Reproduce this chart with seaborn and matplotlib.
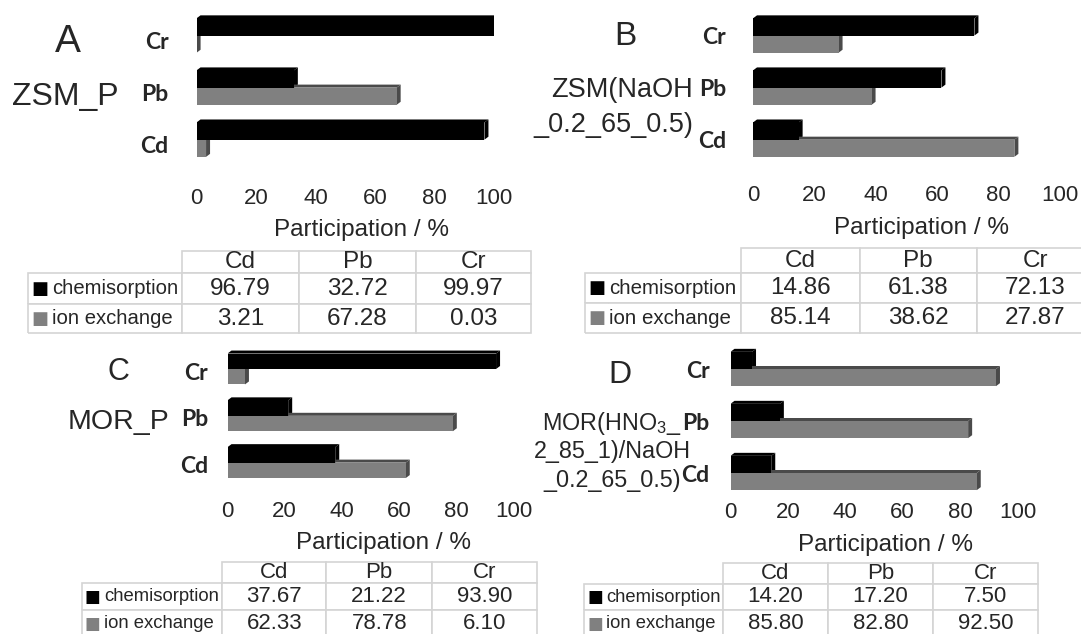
import numpy as np
import pandas as pd
import matplotlib
matplotlib.use('Agg')
import matplotlib.pyplot as plt
import matplotlib.transforms as mtransforms
from matplotlib.patches import Polygon
import seaborn as sns

# data
metals = ['Cd', 'Pb', 'Cr']
bar_order = ['Cr', 'Pb', 'Cd']
mechanisms = ['chemisorption', 'ion exchange']

zsm_p_chem = [96.79, 32.72, 99.97]
zsm_p_ion = [3.21, 67.28, 0.03]
zsm_naoh_chem = [14.86, 61.38, 72.13]
zsm_naoh_ion = [85.14, 38.62, 27.87]
mor_p_chem = [37.67, 21.22, 93.90]
mor_p_ion = [62.33, 78.78, 6.10]
mor_mod_chem = [14.20, 17.20, 7.50]
mor_mod_ion = [85.80, 82.80, 92.50]

panel_letters = ['A', 'B', 'C', 'D']
sample_names = ['ZSM_P',
                'ZSM(NaOH\n_0.2_65_0.5)',
                'MOR_P',
                'MOR(HNO$_3$_\n2_85_1)/NaOH\n_0.2_65_0.5)']
x_label = 'Participation / %'

W, H = 1081, 634
BLACK = '#000000'
GREY = '#808080'
LINE = '#d4d4d4'

# layout in pixels (x from left, y from top)
layouts = [
    dict(ax=(196.5, 9.5, 494, 165.7), tickpad=15.8, ypad=20, yshift=5,
         xlab=(361, 230), letter=(68, 51.7, 28), name=(65, 105, 23, 'center', 0),
         tab_x=[28, 52, 182.5, 299, 416, 531.3], tab_y=[250.7, 273.3, 304, 333.3],
         num_fs=17.5, lab_fs=14.6, sq_fs=13),
    dict(ax=(753, 9.5, 1060, 165.7), tickpad=13.6, ypad=19.5, yshift=0,
         xlab=(922, 228), letter=(625, 45, 24), name=(693, 97, 19.5, 'right', 35),
         tab_x=[585, 609, 741.4, 859.6, 976.6, 1094], tab_y=[248.3, 272.7, 303.3, 333.3],
         num_fs=17.5, lab_fs=14.8, sq_fs=13),
    dict(ax=(227.5, 345.6, 513.5, 486), tickpad=11, ypad=14, yshift=2,
         xlab=(383, 543), letter=(118, 380, 22), name=(118, 429, 20.5, 'center', 0),
         tab_x=[81.6, 104, 222, 326.4, 432, 537], tab_y=[561.7, 583.3, 610, 637],
         num_fs=16, lab_fs=13.3, sq_fs=12),
    dict(ax=(730.5, 343, 1017.5, 499), tickpad=2.5, ypad=15, yshift=0,
         xlab=(885, 545), letter=(620, 383, 23), name=(612, 430, 16.8, 'center', 28.3),
         tab_x=[584, 606, 723, 828, 933, 1038], tab_y=[562.7, 584, 610, 637],
         num_fs=16, lab_fs=13.2, sq_fs=12),
]
series = [(zsm_p_chem, zsm_p_ion), (zsm_naoh_chem, zsm_naoh_ion),
          (mor_p_chem, mor_p_ion), (mor_mod_chem, mor_mod_ion)]

sns.set_style('white')
plt.rcParams['font.family'] = ['Liberation Sans', 'DejaVu Sans']
plt.rcParams['mathtext.fontset'] = 'custom'
plt.rcParams['mathtext.rm'] = 'Liberation Sans'
plt.rcParams['mathtext.default'] = 'regular'


def rect(x0, y0, x1, y1):
    return [x0 / W, 1 - y1 / H, (x1 - x0) / W, (y1 - y0) / H]


def add_3d_faces(ax, ppu, spacing):
    # fake Excel 3D look: top face and side face on every bar
    dx = 4.0 / ppu
    dy = 3.0 / spacing
    for p in list(ax.patches):
        x0, top = p.get_x(), p.get_y()
        xe, bottom = x0 + p.get_width(), top + p.get_height()
        fc = p.get_facecolor()
        face = '#4a4a4a' if fc[0] > 0.2 else '#000000'
        ax.add_patch(Polygon([(x0, top), (x0 + dx, top - dy), (xe + dx, top - dy), (xe, top)],
                             closed=True, facecolor=face, edgecolor='none', zorder=0.5))
        ax.add_patch(Polygon([(xe, top), (xe + dx, top - dy), (xe + dx, bottom - dy), (xe, bottom)],
                             closed=True, facecolor=face, edgecolor='none', zorder=0.5))


fig = plt.figure(figsize=(W / 100, H / 100), dpi=100)

for i, lay in enumerate(layouts):
    chem, ion = series[i]
    df = pd.DataFrame({
        'metal': metals * 2,
        'mechanism': [mechanisms[0]] * 3 + [mechanisms[1]] * 3,
        'value': list(chem) + list(ion),
    })

    x0, y0, x1, y1 = lay['ax']
    ax = fig.add_axes(rect(x0, y0, x1, y1))
    sns.barplot(data=df, y='metal', x='value', hue='mechanism', order=bar_order,
                hue_order=mechanisms, palette=[BLACK, GREY], orient='h', width=0.66,
                saturation=1, legend=False, linewidth=0, edgecolor='none', ax=ax)
    ax.set_xlim(0, 100)
    ax.set_ylim(2.5, -0.5)
    add_3d_faces(ax, (x1 - x0) / 100.0, (y1 - y0) / 3.0)

    sns.despine(ax=ax, left=True, bottom=True)
    ax.set_xticks([0, 20, 40, 60, 80, 100])
    ax.tick_params(axis='x', length=0, pad=lay['tickpad'], labelsize=16)
    ax.tick_params(axis='y', length=0, pad=lay['ypad'])
    ax.set_ylabel('')
    for lbl in ax.get_yticklabels():
        lbl.set_fontfamily('Lato')
        lbl.set_fontweight('bold')
        lbl.set_fontsize(16.5)
        lbl.set_transform(lbl.get_transform() +
                          mtransforms.ScaledTranslation(0, -lay['yshift'] / 100, fig.dpi_scale_trans))

    ax.set_xlabel(x_label, fontsize=17.5)
    xc, yc = lay['xlab']
    ax.xaxis.set_label_coords((xc - x0) / (x1 - x0), -(yc - y1) / (y1 - y0))
    ax.xaxis.label.set_verticalalignment('center')

    # panel letter and sample name
    lx, ly, lfs = lay['letter']
    fig.text(lx / W, 1 - ly / H, panel_letters[i], fontsize=lfs, ha='center', va='baseline')
    nx, ny, nfs, nha, nstep = lay['name']
    for k, line in enumerate(sample_names[i].split('\n')):
        fig.text(nx / W, 1 - (ny + k * nstep) / H, line, fontsize=nfs, ha=nha, va='baseline')

    # data table under the chart
    tx, ty = lay['tab_x'], lay['tab_y']
    tax = fig.add_axes(rect(tx[0], ty[0], tx[-1], ty[-1]))
    tax.axis('off')
    cells = [['', ''] + metals,
             ['\u25a0', mechanisms[0]] + [f'{v:.2f}' for v in chem],
             ['\u25a0', mechanisms[1]] + [f'{v:.2f}' for v in ion]]
    table = tax.table(cellText=cells, cellLoc='center', bbox=[0, 0, 1, 1])
    table.auto_set_font_size(False)
    col_w = np.diff(tx)
    row_h = np.diff(ty)
    for (r, c), cell in table.get_celld().items():
        cell.set_width(col_w[c])
        cell.set_height(row_h[r])
        cell.set_edgecolor(LINE)
        cell.set_linewidth(1.2)
        txt = cell.get_text()
        txt.set_fontsize(lay['num_fs'])
        if c == 0:
            cell.visible_edges = '' if r == 0 else 'BTL'
            txt.set_fontfamily('DejaVu Sans')
            txt.set_fontsize(lay['sq_fs'])
            txt.set_color(BLACK if r == 1 else GREY)
        elif c == 1:
            cell.visible_edges = '' if r == 0 else 'BTR'
            txt.set_fontsize(lay['lab_fs'])
            txt.set_horizontalalignment('left')
            cell.PAD = 0.0

fig.savefig('out.png', dpi=100)
